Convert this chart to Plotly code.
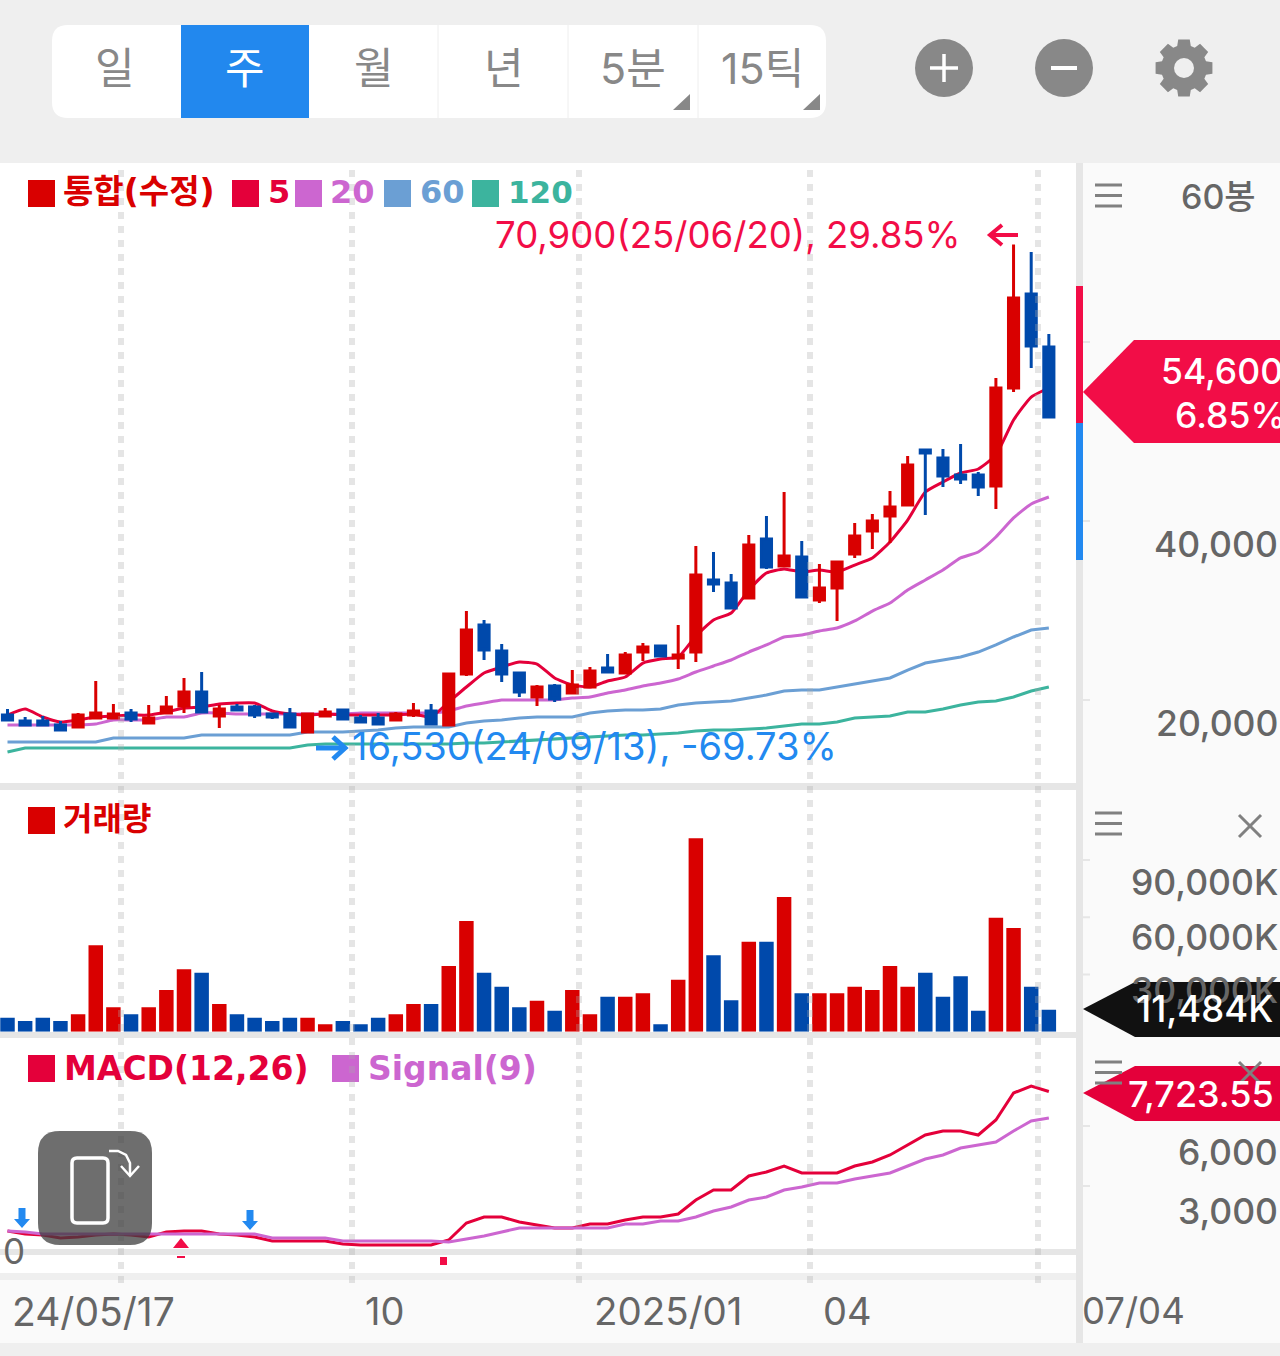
import math
import plotly.graph_objects as go

# ---------- data ----------
opens = [18320,17650,17650,17210,16980,17990,17990,18550,17430,18550,19330,20890,18210,19220,19220,18440,18440,16420,18210,18880,
         17990,17990,17770,18320,18770,17210,22900,28380,25470,23020,20340,21560,20780,21450,23580,23020,25360,26030,24690,25360,
         33410,33070,31400,37990,34970,35980,31170,32510,36310,38880,40560,41790,47930,47040,45140,45140,43910,54860,65360,59440]
highs = [18990,18100,18210,17650,18550,22120,19550,18990,19440,20450,22460,23130,19440,19550,19440,18550,19110,18550,19110,18990,
         18320,18550,18660,19660,19550,23020,29940,28940,26260,23130,21680,21790,23350,23690,25140,25360,26370,26030,28380,37210,
         36540,34080,38440,40560,43240,37770,35200,35530,39780,40780,43350,47260,47930,48040,48600,45470,55980,70900,70060,60890]
lows = [17650,17210,17090,16650,16870,17990,17990,17540,17430,18550,18550,18550,16870,18880,17990,17880,16980,16310,18210,17770,
        17430,17320,17650,18100,17210,17210,22680,24470,22010,20340,19330,19780,20780,21450,23130,23020,24360,24920,23460,24250,
        32070,30280,31400,34640,34970,31510,30840,28830,35870,36870,37540,41790,40670,43800,44130,42790,41340,54410,57090,51510]
closes = [17770,17210,17210,16650,18320,18550,18440,17880,17990,19220,20890,18660,18990,18880,18320,18100,16980,18440,18660,17880,
          17540,17320,18440,18770,17320,22900,27820,25590,22900,20890,21450,20110,21680,23240,23130,25030,25920,24920,25030,33970,
          32960,30280,37320,34860,36090,31510,32510,35420,38320,40000,41560,46260,47600,45030,44690,43800,54860,64910,59550,51620]
ma5 = [18320,18990,18100,17540,17770,18100,18210,18320,18320,18660,19110,19220,19550,19660,19660,18770,18440,18320,18440,18320,
       18320,18320,18320,18440,18100,19780,21450,23020,23690,24250,24020,22460,21680,21450,22120,22570,24130,24580,24800,27150,
       28940,29720,32290,34190,34640,34300,34520,34300,35080,35870,37650,40110,43240,44360,45360,45810,47370,51280,53850,54860]
ma20 = [17210,17210,17210,17210,17210,17320,17770,17770,17770,18100,18100,18550,18550,18440,18440,18440,18440,18440,18440,18440,
        18550,18550,18550,18550,18550,18770,19330,19660,20000,20000,20000,20000,20220,20340,20780,21120,21560,21900,22350,23130,
        23800,24470,25360,26150,27040,27260,27710,28040,28830,29940,30840,32290,33410,34520,35870,36540,38210,40340,41900,42680]
ma60 = [15310,15310,15310,15310,15310,15310,15750,15750,15750,15750,15750,16090,16090,16090,16090,16090,16090,16420,16420,16420,
        16540,16650,16870,16980,16980,16980,17430,17650,17770,17990,18100,18100,18100,18550,18770,18880,18880,18990,19440,19660,
        19780,19890,20220,20560,21010,21120,21120,21450,21790,22120,22460,23350,24130,24470,24800,25360,26150,27040,27820,28040]
ma120 = [14190,14640,14640,14640,14640,14640,14640,14640,14640,14640,14640,14640,14640,14640,14640,14640,14640,14970,15080,15080,
         15080,15080,15080,15080,15080,15080,15200,15200,15310,15420,15530,15640,15750,15870,15980,16090,16090,16200,16310,16540,
         16650,16650,16760,16870,17090,17320,17320,17540,17990,18100,18210,18660,18660,18990,19440,19780,19890,20340,21010,21450]
volumes = [7340,5590,7340,5590,9080,45240,12750,9080,12750,21830,32660,30920,14500,9080,7340,5590,7340,7340,3840,5590,
           3840,7340,9080,14500,14500,34410,57990,30920,23580,12750,16240,11000,21830,9080,18340,18340,20090,3840,27250,101310,
           40000,16420,47160,47160,70570,20090,20090,20090,23580,21830,34410,23580,30920,18340,29000,11000,59740,54320,23580,11484]
macd = [750,600,550,400,450,550,600,550,450,700,750,750,600,550,450,250,250,250,250,100,
        50,50,50,50,50,300,1150,1450,1450,1200,1050,900,900,1100,1100,1300,1450,1450,1600,2300,
        2800,2800,3500,3700,4000,3650,3650,3650,4000,4200,4550,5050,5550,5750,5750,5550,6300,7650,8000,7723.55]
signal = [750,700,600,600,600,600,600,600,600,600,600,600,600,600,600,400,400,400,400,250,
          250,250,250,250,250,200,350,500,700,900,900,900,900,900,900,1100,1100,1250,1250,1450,
          1750,1950,2300,2450,2800,2950,3150,3150,3350,3500,3650,4000,4350,4550,4900,5050,5200,5750,6250,6400]
price_ticks = [60000, 40000, 20000]
price_tick_labels = ["", "40,000", "20,000"]
volume_ticks = [90000, 60000, 30000]
volume_tick_labels = ["90,000K", "60,000K", "30,000K"]
macd_ticks = [6000, 3000]
macd_tick_labels = ["6,000", "3,000"]
x_labels = ["24/05/17", "10", "2025/01", "04", "07/04"]
periods = ["일", "주", "월", "년", "5분", "15틱"]

# ---------- colours ----------
RED, BLUE = "#d90000", "#0049ab"
C5, C20, C60, C120 = "#e4003a", "#cc66d0", "#6b9fd4", "#3cb49e"
HOT, SKY = "#f20d47", "#2289f0"
BG, RAIL, BAND = "#efefef", "#fafafa", "#e6e6e6"
GREY, TXT = "#888888", "#666666"
FONT = "Inter, 'Noto Sans CJK KR', sans-serif"
BOLD = "'DejaVu Sans', 'Noto Sans CJK KR', sans-serif"
W, H = 1280, 1356

def X(p): return p / W
def Y(p): return 1 - p / H

# ---------- layout helpers ----------
shapes, notes = [], []

def rect(x0, y0, x1, y1, fill, layer="below"):
    shapes.append(dict(type="rect", xref="paper", yref="paper", x0=X(x0), x1=X(x1), y0=Y(y0), y1=Y(y1),
                       fillcolor=fill, line=dict(width=0), layer=layer))

def poly(pts, fill=None, line=None, width=0, layer="above", close=True):
    d = "M " + " L ".join(f"{X(a):.5f} {Y(b):.5f}" for a, b in pts) + (" Z" if close else "")
    shapes.append(dict(type="path", xref="paper", yref="paper", path=d, fillcolor=fill or "rgba(0,0,0,0)",
                       line=dict(color=line or "rgba(0,0,0,0)", width=width), layer=layer))

def rrect(x0, y0, x1, y1, r, fill=None, line=None, width=0, layer="above"):
    q = lambda a, b: f"{X(a):.5f} {Y(b):.5f}"
    d = (f"M {q(x0+r,y0)} L {q(x1-r,y0)} Q {q(x1,y0)} {q(x1,y0+r)} L {q(x1,y1-r)} Q {q(x1,y1)} {q(x1-r,y1)} "
         f"L {q(x0+r,y1)} Q {q(x0,y1)} {q(x0,y1-r)} L {q(x0,y0+r)} Q {q(x0,y0)} {q(x0+r,y0)} Z")
    shapes.append(dict(type="path", xref="paper", yref="paper", path=d, fillcolor=fill or "rgba(0,0,0,0)",
                       line=dict(color=line or "rgba(0,0,0,0)", width=width), layer=layer))

def circle(cx, cy, r, fill):
    shapes.append(dict(type="circle", xref="paper", yref="paper", x0=X(cx-r), x1=X(cx+r), y0=Y(cy-r), y1=Y(cy+r),
                       fillcolor=fill, line=dict(width=0), layer="above"))

def seg(x0, y0, x1, y1, color, width, layer="above"):
    shapes.append(dict(type="line", xref="paper", yref="paper", x0=X(x0), x1=X(x1), y0=Y(y0), y1=Y(y1),
                       line=dict(color=color, width=width), layer=layer))

def txt(x, y, s, size, color, anchor="left", weight=400, family=FONT):
    notes.append(dict(xref="paper", yref="paper", x=X(x), y=Y(y), text=s, showarrow=False, xanchor=anchor,
                      yanchor="middle", borderpad=0, font=dict(family=family, size=size, color=color, weight=weight)))

def menu(y):
    for dy in (0, 10.5, 21):
        seg(1095, y + dy, 1122, y + dy, "#808080", 3)

def cross(cx, cy):
    seg(cx - 11, cy - 11, cx + 11, cy + 11, "#808080", 3)
    seg(cx - 11, cy + 11, cx + 11, cy - 11, "#808080", 3)

# ---------- panels and backgrounds ----------
rect(0, 163, 1076, 1273, "#ffffff")
rect(1083, 163, W, 1343, RAIL)
rect(0, 1280, 1083, 1343, RAIL)
rect(1076, 163, 1083, 1343, BAND)
rect(0, 783, 1076, 790, BAND)
rect(0, 1032, 1076, 1038, BAND)
rect(0, 1249, 1076, 1255, BAND)
rect(0, 1273, 1076, 1280, BG)

# ---------- toolbar ----------
rrect(52, 25, 826, 118, 16, fill="#ffffff", layer="below")
rect(181, 25, 309, 118, "#2288ee")
for sx in (438, 568, 698):
    seg(sx, 25, sx, 118, "#eeeeee", 1, layer="below")
for cx, s, col in zip((115, 245, 374, 504, 633, 762), periods, (GREY, "#ffffff", GREY, GREY, GREY, GREY)):
    txt(cx, 68, s, 43, col, "center", 400)
for tx in (690, 820):
    poly([(tx, 94), (tx, 110), (tx - 17, 110)], fill=GREY)
circle(944, 68, 29, GREY)
seg(930, 68, 958, 68, "#ffffff", 3.5)
seg(944, 54, 944, 82, "#ffffff", 3.5)
circle(1064, 68, 29, GREY)
seg(1051, 68, 1077, 68, "#ffffff", 4)
gear = []
for k in range(8):
    a = k * math.pi / 4
    for da, r in ((-0.30, 23), (-0.20, 29), (0.20, 29), (0.30, 23)):
        gear.append((1184 + r * math.cos(a + da), 68 + r * math.sin(a + da)))
poly(gear, fill=GREY)
circle(1184, 68, 10, BG)

# ---------- axis geometry (pixels -> values) ----------
STEP = 17.65
x_range = [(0 - 7.5) / STEP, (1076 - 7.5) / STEP]
P0, P1 = 163, 783
price_range = [20000 + (700 - P1) * 111.73, 20000 + (700 - P0) * 111.73]
V0, V1 = 790, 1031.7
vol_range = [0, (V1 - V0) * 524]
M0, M1 = 1038, 1249
macd_range = [(1246 - M1) * 50, (1246 - M0) * 50]

# ---------- traces ----------
xs = list(range(len(closes)))
fig = go.Figure()
for vals, col, shp in ((ma120, C120, "linear"), (ma60, C60, "linear"), (ma20, C20, "spline"), (ma5, C5, "spline")):
    fig.add_trace(go.Scatter(x=xs, y=vals, mode="lines", line=dict(color=col, width=3, shape=shp, smoothing=0.5),
                             xaxis="x", yaxis="y", showlegend=False))
# candles sit on an overlaying axis so they are painted above the moving averages
fig.add_trace(go.Candlestick(x=xs, open=opens, high=highs, low=lows, close=closes, xaxis="x", yaxis="y4",
                             increasing=dict(line=dict(color=RED, width=3), fillcolor=RED),
                             decreasing=dict(line=dict(color=BLUE, width=3), fillcolor=BLUE),
                             whiskerwidth=0, showlegend=False))
bar_cols = [RED if c >= o else BLUE for o, c in zip(opens, closes)]
fig.add_trace(go.Bar(x=xs, y=volumes, marker=dict(color=bar_cols, line=dict(width=0)), xaxis="x2", yaxis="y2", showlegend=False))
fig.add_trace(go.Scatter(x=xs, y=macd, mode="lines", line=dict(color=C5, width=3), xaxis="x3", yaxis="y3", showlegend=False))
fig.add_trace(go.Scatter(x=xs, y=signal, mode="lines", line=dict(color=C20, width=3), xaxis="x3", yaxis="y3", showlegend=False))

# ---------- legends ----------
def square(x, y, col):
    rect(x, y, x + 27, y + 27, col, layer="above")

square(28, 180, RED); txt(62, 191, "통합(수정)", 33, RED, weight=700, family=BOLD)
square(232, 180, C5); txt(267, 192, "5", 32, C5, weight=700, family=BOLD)
square(295, 180, C20); txt(329, 192, "20", 32, C20, weight=700, family=BOLD)
square(384, 180, C60); txt(419, 192, "60", 32, C60, weight=700, family=BOLD)
square(472, 180, C120); txt(507, 192, "120", 31, C120, weight=700, family=BOLD)
square(28, 807, RED); txt(62, 819, "거래량", 32, RED, weight=700, family=BOLD)
square(28, 1055, C5); txt(63, 1068, "MACD(12,26)", 33, C5, weight=700, family=BOLD)
square(332, 1055, C20); txt(367, 1068, "Signal(9)", 33, C20, weight=700, family=BOLD)

# ---------- high / low notes ----------
txt(494, 235, "70,900(25/06/20), 29.85%", 36.6, HOT, weight=400)
poly([(1018, 235), (990, 235)], line=HOT, width=4, close=False)
poly([(1002, 225), (990, 235), (1002, 245)], line=HOT, width=4, close=False)
txt(351, 746, "16,530(24/09/13), -69.73%", 38, SKY, weight=400)
poly([(316, 748), (345, 748)], line=SKY, width=5, close=False)
poly([(333, 737), (345, 748), (333, 759)], line=SKY, width=5, close=False)

# ---------- right rail ----------
menu(185)
txt(1218, 196, "60봉", 34, TXT, "center", 500)
menu(813); cross(1250, 826)

def tick_set(ticks, labels, axis, shifts):
    for v, s, sh in zip(ticks, labels, shifts):
        shapes.append(dict(type="line", xref="paper", yref=axis, x0=X(1083), x1=X(1090), y0=v, y1=v,
                           line=dict(color=BAND, width=2), layer="below"))
        if s:
            notes.append(dict(xref="paper", yref=axis, x=X(1279), y=v, yshift=sh, text=s, showarrow=False,
                              xanchor="right", yanchor="middle", borderpad=0,
                              font=dict(family=FONT, size=35.5, color=TXT, weight=500)))

tick_set(price_ticks, price_tick_labels, "y", (-24, -24, -24))
tick_set(volume_ticks, volume_tick_labels, "y2", (-23, -20, -16))
tick_set(macd_ticks, macd_tick_labels, "y3", (-26, -25))

rect(1076, 286, 1083, 423, HOT, layer="above")
rect(1076, 423, 1083, 560, SKY, layer="above")
poly([(1083, 392), (1134, 340), (W, 340), (W, 443), (1134, 443)], fill=HOT)
txt(1160, 371, "54,600", 35.5, "#ffffff", weight=500)
txt(1174, 415, "6.85%", 35.5, "#ffffff", weight=500)

poly([(1083, 1009), (1135, 982), (W, 982), (W, 1037), (1135, 1037)], fill="#111111")
txt(1135, 1009, "11,484K", 36.5, "#ffffff", weight=500)
poly([(1083, 1093), (1135, 1066), (W, 1066), (W, 1121), (1135, 1121)], fill=C5)
txt(1127, 1094, "7,723.55", 36, "#ffffff", weight=500)
menu(1062); cross(1250, 1073)

# ---------- date labels ----------
for lx, s, fs in zip((11, 364, 593, 822, 1081), x_labels, (39, 38, 38.5, 38, 36.5)):
    txt(lx, 1311, s, fs, TXT, weight=400)
txt(2, 1251, "0", 35, TXT)

# ---------- dotted date grid ----------
for gx in (121, 352, 579, 810, 1038):
    shapes.append(dict(type="line", xref="paper", yref="paper", x0=X(gx), x1=X(gx), y0=Y(170), y1=Y(1290),
                       line=dict(color="rgba(170,170,170,0.3)", width=6, dash="7px,7px"), layer="above"))

# ---------- MACD cross markers ----------
for ax in (22, 250):
    ay = 1208 if ax == 22 else 1210
    poly([(ax - 3.5, ay), (ax + 3.5, ay), (ax + 3.5, ay + 11), (ax + 8, ay + 11), (ax, ay + 20), (ax - 8, ay + 11), (ax - 3.5, ay + 11)], fill=SKY)
poly([(181, 1238), (189, 1248), (173, 1248)], fill=HOT)
rect(177, 1256, 185, 1258, HOT, layer="above")
rect(440, 1257, 447, 1265, HOT, layer="above")

# ---------- rotate button ----------
rrect(38, 1131, 152, 1245, 22, fill="rgba(60,60,60,0.74)")
rrect(72, 1158, 108, 1223, 5, line="#ffffff", width=3.5)
poly([(109, 1151), (118, 1151), (126, 1155), (130, 1163), (130, 1175)], line="#ffffff", width=2.5, close=False)
poly([(121, 1166), (130, 1176), (139, 1166)], line="#ffffff", width=2.5, close=False)

# ---------- figure ----------
def hidden(**kw):
    return dict(visible=False, fixedrange=True, **kw)

fig.update_layout(
    width=W, height=H, margin=dict(l=0, r=0, t=0, b=0), autosize=False,
    paper_bgcolor=BG, plot_bgcolor="rgba(0,0,0,0)",
    showlegend=False, bargap=0.18, boxgap=0.18, hovermode=False,
    shapes=shapes, annotations=notes,
    xaxis=hidden(domain=[0, X(1076)], range=x_range, rangeslider=dict(visible=False), anchor="y"),
    xaxis2=hidden(domain=[0, X(1076)], range=x_range, anchor="y2"),
    xaxis3=hidden(domain=[0, X(1076)], range=x_range, anchor="y3"),
    yaxis=hidden(domain=[Y(P1), Y(P0)], range=price_range, anchor="x"),
    yaxis2=hidden(domain=[Y(V1), Y(V0)], range=vol_range, anchor="x2"),
    yaxis3=hidden(domain=[Y(M1), Y(M0)], range=macd_range, anchor="x3"),
    yaxis4=hidden(range=price_range, overlaying="y", anchor="x"),
)
fig.write_html("out.html", config=dict(displayModeBar=False),
               post_script="document.body.style.margin='0';document.body.style.background='#efefef';")
